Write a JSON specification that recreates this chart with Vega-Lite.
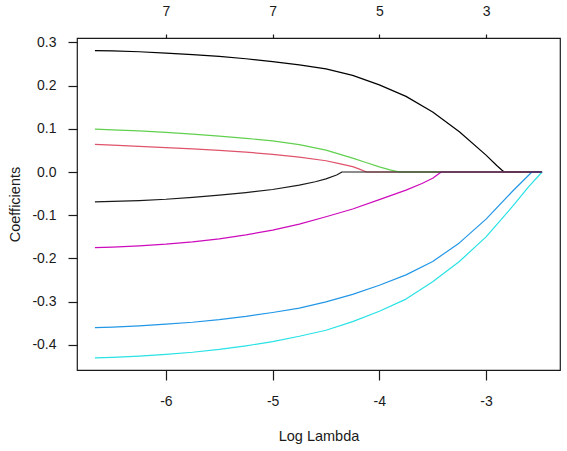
{
  "$schema": "https://vega.github.io/schema/vega-lite/v6.json",
  "width": 483,
  "height": 332,
  "autosize": {"type": "none"},
  "padding": {"left": 77, "top": 38, "right": 7, "bottom": 81},
  "background": "white",
  "config": {
    "locale": {"number": {"decimal": ".", "thousands": ",", "grouping": [3], "currency": ["$", ""], "minus": "-"}},
    "font": "Liberation Sans",
    "view": {"stroke": "#1a1a1a", "strokeWidth": 1.2},
    "axis": {
      "domain": false,
      "grid": false,
      "tickColor": "#1a1a1a",
      "tickWidth": 1.2,
      "labelColor": "#1a1a1a",
      "labelFont": "Liberation Sans",
      "labelFontSize": 14,
      "titleColor": "#1a1a1a",
      "titleFont": "Liberation Sans",
      "titleFontSize": 14.5,
      "titleFontWeight": "normal"
    }
  },
  "datasets": {
    "coefs": [
      {"var": "x1", "loglambda": -6.665, "coef": 0.281},
      {"var": "x1", "loglambda": -6.5, "coef": 0.28},
      {"var": "x1", "loglambda": -6.25, "coef": 0.2782},
      {"var": "x1", "loglambda": -6.0, "coef": 0.275},
      {"var": "x1", "loglambda": -5.75, "coef": 0.2715},
      {"var": "x1", "loglambda": -5.5, "coef": 0.2675},
      {"var": "x1", "loglambda": -5.25, "coef": 0.262},
      {"var": "x1", "loglambda": -5.0, "coef": 0.2555},
      {"var": "x1", "loglambda": -4.75, "coef": 0.248},
      {"var": "x1", "loglambda": -4.5, "coef": 0.2385},
      {"var": "x1", "loglambda": -4.25, "coef": 0.2235},
      {"var": "x1", "loglambda": -4.0, "coef": 0.2015},
      {"var": "x1", "loglambda": -3.75, "coef": 0.175},
      {"var": "x1", "loglambda": -3.5, "coef": 0.139},
      {"var": "x1", "loglambda": -3.25, "coef": 0.093},
      {"var": "x1", "loglambda": -3.0, "coef": 0.039},
      {"var": "x1", "loglambda": -2.9, "coef": 0.015},
      {"var": "x1", "loglambda": -2.85, "coef": 0.004},
      {"var": "x1", "loglambda": -2.83, "coef": 0.0},
      {"var": "x1", "loglambda": -2.475, "coef": 0.0},

      {"var": "x2", "loglambda": -6.665, "coef": 0.064},
      {"var": "x2", "loglambda": -6.5, "coef": 0.062},
      {"var": "x2", "loglambda": -6.25, "coef": 0.0595},
      {"var": "x2", "loglambda": -6.0, "coef": 0.0565},
      {"var": "x2", "loglambda": -5.75, "coef": 0.0535},
      {"var": "x2", "loglambda": -5.5, "coef": 0.05},
      {"var": "x2", "loglambda": -5.25, "coef": 0.046},
      {"var": "x2", "loglambda": -5.0, "coef": 0.041},
      {"var": "x2", "loglambda": -4.75, "coef": 0.0345},
      {"var": "x2", "loglambda": -4.5, "coef": 0.026},
      {"var": "x2", "loglambda": -4.375, "coef": 0.0195},
      {"var": "x2", "loglambda": -4.25, "coef": 0.0125},
      {"var": "x2", "loglambda": -4.18, "coef": 0.006},
      {"var": "x2", "loglambda": -4.12, "coef": 0.0},
      {"var": "x2", "loglambda": -2.475, "coef": 0.0},

      {"var": "x3", "loglambda": -6.665, "coef": 0.099},
      {"var": "x3", "loglambda": -6.5, "coef": 0.0975},
      {"var": "x3", "loglambda": -6.25, "coef": 0.095},
      {"var": "x3", "loglambda": -6.0, "coef": 0.0915},
      {"var": "x3", "loglambda": -5.75, "coef": 0.0875},
      {"var": "x3", "loglambda": -5.5, "coef": 0.083},
      {"var": "x3", "loglambda": -5.25, "coef": 0.078},
      {"var": "x3", "loglambda": -5.0, "coef": 0.072},
      {"var": "x3", "loglambda": -4.75, "coef": 0.0635},
      {"var": "x3", "loglambda": -4.5, "coef": 0.0505},
      {"var": "x3", "loglambda": -4.25, "coef": 0.032},
      {"var": "x3", "loglambda": -4.125, "coef": 0.022},
      {"var": "x3", "loglambda": -4.0, "coef": 0.012},
      {"var": "x3", "loglambda": -3.9, "coef": 0.005},
      {"var": "x3", "loglambda": -3.81, "coef": 0.0},
      {"var": "x3", "loglambda": -2.475, "coef": 0.0},

      {"var": "x4", "loglambda": -6.665, "coef": -0.36},
      {"var": "x4", "loglambda": -6.5, "coef": -0.3588},
      {"var": "x4", "loglambda": -6.25, "coef": -0.356},
      {"var": "x4", "loglambda": -6.0, "coef": -0.352},
      {"var": "x4", "loglambda": -5.75, "coef": -0.3475},
      {"var": "x4", "loglambda": -5.5, "coef": -0.3415},
      {"var": "x4", "loglambda": -5.25, "coef": -0.334},
      {"var": "x4", "loglambda": -5.0, "coef": -0.325},
      {"var": "x4", "loglambda": -4.75, "coef": -0.315},
      {"var": "x4", "loglambda": -4.5, "coef": -0.3005},
      {"var": "x4", "loglambda": -4.25, "coef": -0.283},
      {"var": "x4", "loglambda": -4.0, "coef": -0.262},
      {"var": "x4", "loglambda": -3.75, "coef": -0.238},
      {"var": "x4", "loglambda": -3.5, "coef": -0.207},
      {"var": "x4", "loglambda": -3.25, "coef": -0.164},
      {"var": "x4", "loglambda": -3.0, "coef": -0.109},
      {"var": "x4", "loglambda": -2.75, "coef": -0.044},
      {"var": "x4", "loglambda": -2.57, "coef": 0.0},
      {"var": "x4", "loglambda": -2.475, "coef": 0.0},

      {"var": "x5", "loglambda": -6.665, "coef": -0.43},
      {"var": "x5", "loglambda": -6.5, "coef": -0.4288},
      {"var": "x5", "loglambda": -6.25, "coef": -0.426},
      {"var": "x5", "loglambda": -6.0, "coef": -0.422},
      {"var": "x5", "loglambda": -5.75, "coef": -0.417},
      {"var": "x5", "loglambda": -5.5, "coef": -0.4105},
      {"var": "x5", "loglambda": -5.25, "coef": -0.402},
      {"var": "x5", "loglambda": -5.0, "coef": -0.3925},
      {"var": "x5", "loglambda": -4.75, "coef": -0.38},
      {"var": "x5", "loglambda": -4.5, "coef": -0.366},
      {"var": "x5", "loglambda": -4.25, "coef": -0.346},
      {"var": "x5", "loglambda": -4.0, "coef": -0.322},
      {"var": "x5", "loglambda": -3.75, "coef": -0.294},
      {"var": "x5", "loglambda": -3.5, "coef": -0.254},
      {"var": "x5", "loglambda": -3.25, "coef": -0.207},
      {"var": "x5", "loglambda": -3.0, "coef": -0.15},
      {"var": "x5", "loglambda": -2.75, "coef": -0.079},
      {"var": "x5", "loglambda": -2.6, "coef": -0.034},
      {"var": "x5", "loglambda": -2.475, "coef": 0.0},

      {"var": "x6", "loglambda": -6.665, "coef": -0.175},
      {"var": "x6", "loglambda": -6.5, "coef": -0.1738},
      {"var": "x6", "loglambda": -6.25, "coef": -0.1708},
      {"var": "x6", "loglambda": -6.0, "coef": -0.167},
      {"var": "x6", "loglambda": -5.75, "coef": -0.1615},
      {"var": "x6", "loglambda": -5.5, "coef": -0.1545},
      {"var": "x6", "loglambda": -5.25, "coef": -0.1455},
      {"var": "x6", "loglambda": -5.0, "coef": -0.1345},
      {"var": "x6", "loglambda": -4.75, "coef": -0.1205},
      {"var": "x6", "loglambda": -4.5, "coef": -0.1035},
      {"var": "x6", "loglambda": -4.25, "coef": -0.0855},
      {"var": "x6", "loglambda": -4.0, "coef": -0.064},
      {"var": "x6", "loglambda": -3.75, "coef": -0.042},
      {"var": "x6", "loglambda": -3.6, "coef": -0.0265},
      {"var": "x6", "loglambda": -3.5, "coef": -0.0145},
      {"var": "x6", "loglambda": -3.42, "coef": 0.0},
      {"var": "x6", "loglambda": -2.475, "coef": 0.0},

      {"var": "x7", "loglambda": -6.665, "coef": -0.069},
      {"var": "x7", "loglambda": -6.5, "coef": -0.068},
      {"var": "x7", "loglambda": -6.25, "coef": -0.066},
      {"var": "x7", "loglambda": -6.0, "coef": -0.063},
      {"var": "x7", "loglambda": -5.75, "coef": -0.0585},
      {"var": "x7", "loglambda": -5.5, "coef": -0.0535},
      {"var": "x7", "loglambda": -5.25, "coef": -0.0475},
      {"var": "x7", "loglambda": -5.0, "coef": -0.0405},
      {"var": "x7", "loglambda": -4.75, "coef": -0.0305},
      {"var": "x7", "loglambda": -4.6, "coef": -0.0225},
      {"var": "x7", "loglambda": -4.5, "coef": -0.016},
      {"var": "x7", "loglambda": -4.4, "coef": -0.007},
      {"var": "x7", "loglambda": -4.35, "coef": 0.0},
      {"var": "x7", "loglambda": -2.475, "coef": 0.0}
    ],
    "dfs": [
      {"loglambda": -6, "df": 7},
      {"loglambda": -5, "df": 7},
      {"loglambda": -4, "df": 5},
      {"loglambda": -3, "df": 3}
    ]
  },
  "layer": [
    {
      "data": {"name": "coefs"},
      "mark": {"type": "line", "strokeWidth": 1.2, "strokeJoin": "round", "clip": true},
      "encoding": {
        "x": {
          "field": "loglambda",
          "type": "quantitative",
          "scale": {"domain": [-6.833, -2.307], "nice": false, "zero": false},
          "axis": {
            "orient": "bottom",
            "values": [-6, -5, -4, -3],
            "format": "d",
            "tickSize": 10,
            "labelPadding": 14,
            "title": "Log Lambda",
            "titlePadding": 21
          }
        },
        "y": {
          "field": "coef",
          "type": "quantitative",
          "scale": {"domain": [-0.458, 0.31], "nice": false, "zero": false},
          "axis": {
            "values": [-0.4, -0.3, -0.2, -0.1, 0, 0.1, 0.2, 0.3],
            "format": ".1f",
            "tickSize": 9,
            "labelPadding": 12,
            "title": "Coefficients",
            "titlePadding": 9
          }
        },
        "color": {
          "field": "var",
          "type": "nominal",
          "scale": {
            "domain": ["x1", "x2", "x3", "x4", "x5", "x6", "x7"],
            "range": ["#000000", "#DF536B", "#61D04F", "#2297E6", "#28E2E5", "#CD0BBC", "#1a1a1a"]
          },
          "legend": null
        },
        "detail": {"field": "var"}
      }
    },
    {
      "data": {"name": "dfs"},
      "mark": {"type": "point", "opacity": 0},
      "encoding": {
        "x": {
          "field": "loglambda",
          "type": "quantitative",
          "axis": {
            "orient": "top",
            "values": [-6, -5, -4, -3],
            "labelExpr": "datum.value == -6 ? '7' : datum.value == -5 ? '7' : datum.value == -4 ? '5' : '3'",
            "tickSize": 4,
            "labelPadding": 16,
            "title": null
          }
        }
      }
    }
  ],
  "resolve": {"axis": {"x": "independent"}}
}
